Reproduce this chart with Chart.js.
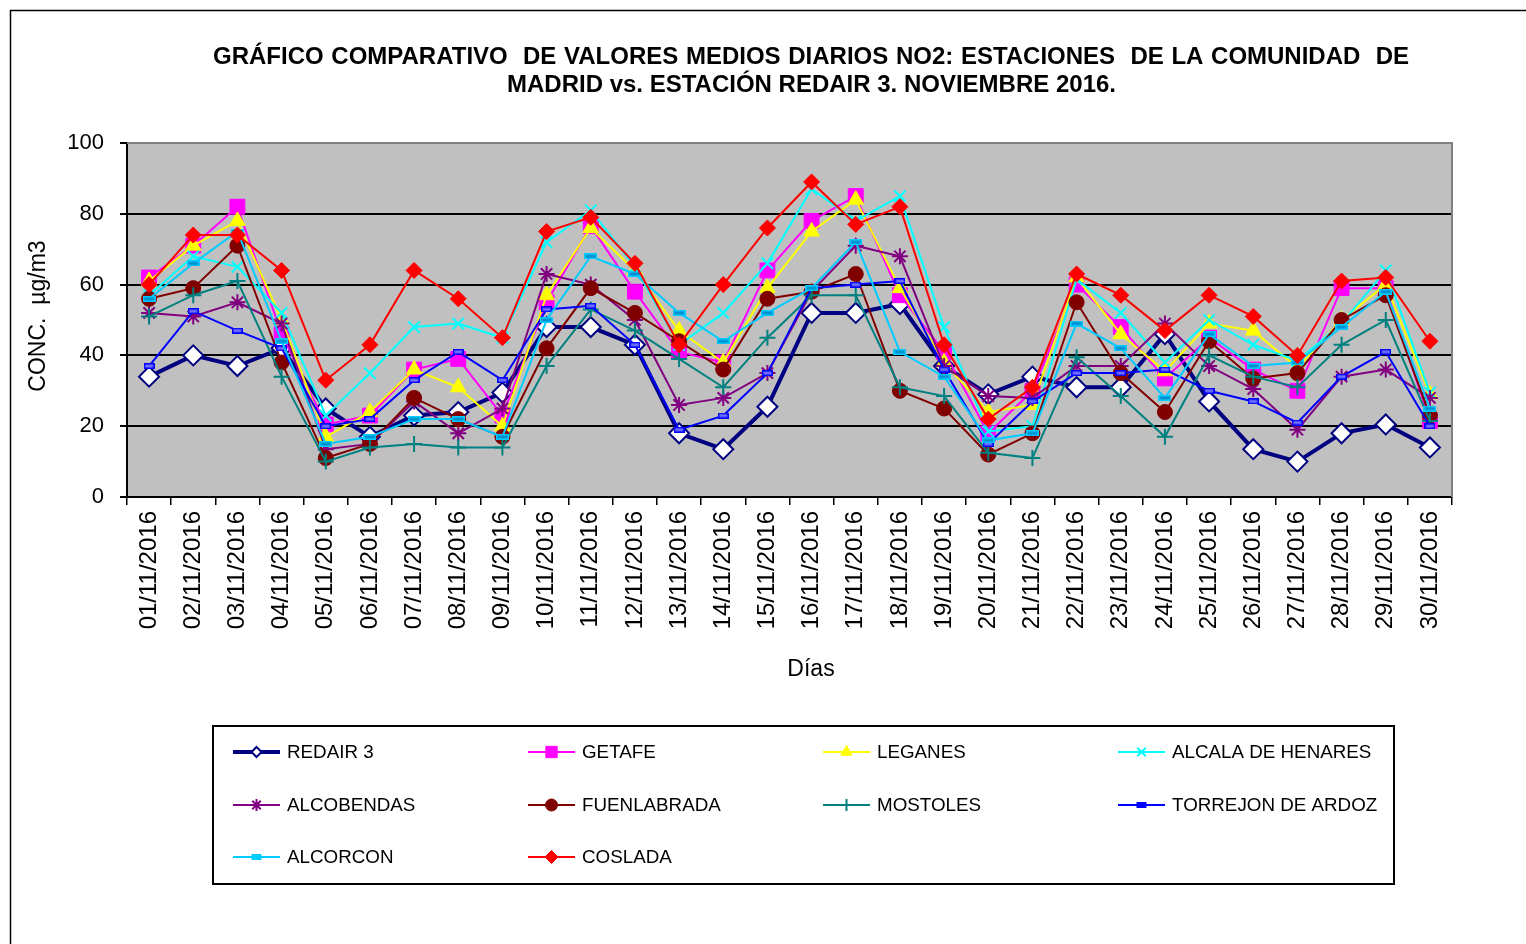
<!DOCTYPE html>
<html>
<head>
<meta charset="utf-8">
<script src="https://cdn.jsdelivr.net/npm/chart.js@4/dist/chart.umd.min.js"></script>
<style>
html,body{margin:0;padding:0;background:#fff;}
canvas{display:block;}
</style>
</head>
<body>
<canvas id="c" width="1526" height="944"></canvas>
<script>
// ---------- DATA ----------
const days = ['01/11/2016','02/11/2016','03/11/2016','04/11/2016','05/11/2016','06/11/2016','07/11/2016','08/11/2016','09/11/2016','10/11/2016',
  '11/11/2016','12/11/2016','13/11/2016','14/11/2016','15/11/2016','16/11/2016','17/11/2016','18/11/2016','19/11/2016','20/11/2016',
  '21/11/2016','22/11/2016','23/11/2016','24/11/2016','25/11/2016','26/11/2016','27/11/2016','28/11/2016','29/11/2016','30/11/2016'];
const yTicks = [0, 20, 40, 60, 80, 100];

const redair3     = [34,40,37,42,25,17,23,24,29.5,48,48,43,18,13.5,25.5,52,52,54.5,37,29,34,31,31,46,27,13.5,10,18,20.5,14];
const getafe      = [62,71,82,46,20.5,23,36,39,23,55,76.5,58,41,38,64,78,85,57,41,18,30,60,48,33.5,45,36,30,59,59,21.5];
const leganes     = [61,71,78,50,17,24,36,31,20,57,76,64,47,38,59,75,84,59,38,24,26,62,46,35.5,49,47,36.5,50,60,29];
const alcala      = [57,68,65,52,23,35,48,49,45,72,81,65,43,52,66,87,78,85,48,18.5,20,61.5,52,38,50,43,38.5,49,64,29.5];
const alcobendas  = [52,51,55,49,13.5,15,27,18,25,63,60,50,26,28,35,58,71,68,37,28.5,28,37,37,49,37,30.5,19,34,36,28];
const fuenlabrada = [56,59,71,38,11,15,28,22,17,42,59,52,44,36,56,58,63,30,25,12,18,55,35,24,44,33.5,35,50,57,23];
const mostoles    = [51,57,61,34,10,14,15,14,14,37,53,47,39,31,45,57,57,31,28.5,12.5,11,39.5,28.5,17,40,34,31,43,50,21.5];
const torrejon    = [37,52.5,47,42,20,22,33,41,33,53,54,43,19,23,35,59,60,61,36,15,27,35,35,36,30,27,21,34,41,20];
const alcorcon    = [56,66,75,44,15,17,22,22,17,50,68,63,52,44,52,59,72,41,34,16,18,49,42,28,46,37,38,48,58,25];
const coslada     = [60,74,74,64,33,43,64,56,45,75,79,66,43,60,76,89,77,82,43,22,31,63,57,47,57,51,40,61,62,44];

const seriesNames = ['REDAIR 3','GETAFE','LEGANES','ALCALA DE HENARES','ALCOBENDAS','FUENLABRADA','MOSTOLES','TORREJON DE ARDOZ','ALCORCON','COSLADA'];
const titleLines = ['GRÁFICO COMPARATIVO  DE VALORES MEDIOS DIARIOS NO2: ESTACIONES  DE LA COMUNIDAD  DE', 'MADRID vs. ESTACIÓN REDAIR 3. NOVIEMBRE 2016.'];
const yTitle = 'CONC.  µg/m3';
const xTitle = 'Días';

// ---------- STYLES ----------
function dash(fill, stroke, w, h) {
  const c = document.createElement('canvas');
  c.width = w; c.height = h;
  const g = c.getContext('2d');
  g.fillStyle = fill; g.fillRect(0, 0, w, h);
  g.strokeStyle = stroke; g.lineWidth = 1.5;
  g.strokeRect(0.75, 0.75, w - 1.5, h - 1.5);
  return c;
}
const torrejonMark = dash('#7070FF', '#0000FF', 11, 6);
const alcorconMark = dash('#0090D0', '#00CCFF', 13, 6);

const styles = [
  {color:'#000080', bw:4, ps:'rectRot', r:10, fill:'#FFFFFF', pbw:2, lr:5},
  {color:'#FF00FF', bw:2, ps:'rect', r:10.5, fill:'#FF00FF', pbw:1, lr:8},
  {color:'#FFFF00', bw:2, ps:'triangle', r:9, fill:'#FFFF00', pbw:1, lr:6.5},
  {color:'#00FFFF', bw:2, ps:'crossRot', r:8, fill:'#00FFFF', pbw:2, lr:6},
  {color:'#800080', bw:2, ps:'star', r:8, fill:'#800080', pbw:2, lr:6},
  {color:'#800000', bw:2, ps:'circle', r:7.5, fill:'#800000', pbw:1, lr:6},
  {color:'#008080', bw:2, ps:'cross', r:8, fill:'#008080', pbw:2, lr:6},
  {color:'#0000FF', bw:2, ps:torrejonMark, r:6, fill:'#0000FF', pbw:1, lr:4, legendDash:true},
  {color:'#00CCFF', bw:2, ps:alcorconMark, r:6, fill:'#00CCFF', pbw:1, lr:5, legendDash:true},
  {color:'#FF0000', bw:2, ps:'rectRot', r:8, fill:'#FF0000', pbw:1, lr:6.5}
];
const allData = [redair3,getafe,leganes,alcala,alcobendas,fuenlabrada,mostoles,torrejon,alcorcon,coslada];

const datasets = allData.map((d, i) => ({
  label: seriesNames[i],
  data: d,
  borderColor: styles[i].color,
  backgroundColor: styles[i].fill,
  borderWidth: styles[i].bw,
  pointStyle: styles[i].ps,
  pointRadius: styles[i].r,
  pointBorderColor: styles[i].color,
  pointBackgroundColor: styles[i].fill,
  pointBorderWidth: styles[i].pbw,
  tension: 0,
  fill: false,
  order: 10 - i
}));

// ---------- HELPERS ----------
function drawMarker(ctx, st, x, y, r) {
  ctx.save();
  ctx.fillStyle = st.fill; ctx.strokeStyle = st.color; ctx.lineWidth = st.pbw;
  if (st.legendDash) {
    ctx.fillStyle = st.color;
    ctx.fillRect(x - 5, y - 3, 10, 6);
    ctx.restore(); return;
  }
  ctx.beginPath();
  const s = st.ps;
  if (s === 'rectRot') {
    ctx.moveTo(x - r, y); ctx.lineTo(x, y - r); ctx.lineTo(x + r, y); ctx.lineTo(x, y + r); ctx.closePath();
    ctx.fill(); ctx.stroke();
  } else if (s === 'rect') {
    const h = r * Math.SQRT1_2; ctx.rect(x - h, y - h, 2 * h, 2 * h); ctx.fill(); ctx.stroke();
  } else if (s === 'triangle') {
    for (let k = 0; k < 3; k++) {
      const a = k * 2 * Math.PI / 3;
      const px = x + Math.sin(a) * r, py = y - Math.cos(a) * r;
      if (k === 0) ctx.moveTo(px, py); else ctx.lineTo(px, py);
    }
    ctx.closePath(); ctx.fill(); ctx.stroke();
  } else if (s === 'circle') {
    ctx.arc(x, y, r, 0, Math.PI * 2); ctx.fill(); ctx.stroke();
  } else {
    const c = r * Math.SQRT1_2;
    if (s === 'cross' || s === 'star') { ctx.moveTo(x, y - r); ctx.lineTo(x, y + r); ctx.moveTo(x - r, y); ctx.lineTo(x + r, y); }
    if (s === 'crossRot' || s === 'star') { ctx.moveTo(x - c, y - c); ctx.lineTo(x + c, y + c); ctx.moveTo(x + c, y - c); ctx.lineTo(x - c, y + c); }
    ctx.stroke();
  }
  ctx.restore();
}

const decor = {
  id: 'decor',
  beforeDraw(chart) {
    const ctx = chart.ctx, a = chart.chartArea;
    ctx.save();
    ctx.fillStyle = '#FFFFFF';
    ctx.fillRect(0, 0, chart.width, chart.height);
    ctx.fillStyle = '#C0C0C0';
    ctx.fillRect(a.left, a.top, a.right - a.left, a.bottom - a.top);
    ctx.restore();
  },
  beforeDatasetsDraw(chart) {
    const ctx = chart.ctx, a = chart.chartArea;
    ctx.save();
    ctx.strokeStyle = '#808080'; ctx.lineWidth = 2;
    ctx.beginPath();
    ctx.moveTo(a.left, a.top); ctx.lineTo(a.right, a.top); ctx.lineTo(a.right, a.bottom);
    ctx.stroke();
    ctx.restore();
  },
  afterDraw(chart) {
    const ctx = chart.ctx, a = chart.chartArea;
    ctx.save();
    // outer border
    ctx.strokeStyle = '#000'; ctx.lineWidth = 1.5;
    ctx.beginPath(); ctx.moveTo(10.5, chart.height); ctx.lineTo(10.5, 10.5); ctx.lineTo(chart.width, 10.5); ctx.stroke();

    // title
    ctx.fillStyle = '#000';
    ctx.font = 'bold 24px "Liberation Sans", Arial, sans-serif';
    ctx.textBaseline = 'middle';
    // line 1 justified between 213 and 1409, keeping the wider gaps
    const parts = titleLines[0].split(' ');
    const L = 213, R = 1409;
    let sum = 0, nGaps = 0;
    parts.forEach(w => { if (w) sum += ctx.measureText(w).width; });
    nGaps = parts.length - 1;
    const gap = (R - L - sum) / nGaps;
    let x = L;
    ctx.textAlign = 'left';
    parts.forEach(w => { if (w) { ctx.fillText(w, x, 57); x += ctx.measureText(w).width; } x += gap; });
    ctx.textAlign = 'center';
    ctx.fillText(titleLines[1], 811.5, 85);

    // axis titles
    ctx.font = '23px "Liberation Sans", Arial, sans-serif';
    ctx.save();
    ctx.translate(39, 316);
    ctx.rotate(-Math.PI / 2);
    ctx.textAlign = 'center'; ctx.textBaseline = 'middle';
    ctx.fillText(yTitle, 0, 0);
    ctx.restore();
    ctx.font = '23px "Liberation Sans", Arial, sans-serif';
    ctx.textAlign = 'center'; ctx.textBaseline = 'middle';
    ctx.fillText(xTitle, 811, 670);

    // legend
    ctx.strokeStyle = '#000'; ctx.lineWidth = 2;
    ctx.strokeRect(213, 726, 1181, 158);
    const cols = [233, 528, 823, 1118], rows = [752, 805, 857];
    ctx.font = '18.8px "Liberation Sans", Arial, sans-serif';
    ctx.textAlign = 'left'; ctx.textBaseline = 'middle';
    chart.data.datasets.forEach((ds, i) => {
      const st = styles[i];
      const cx = cols[i % 4], cy = rows[Math.floor(i / 4)];
      ctx.strokeStyle = st.color; ctx.lineWidth = st.bw === 4 ? 4 : 2;
      ctx.beginPath(); ctx.moveTo(cx, cy); ctx.lineTo(cx + 47, cy); ctx.stroke();
      drawMarker(ctx, st, cx + 23.5, cy, st.lr);
      ctx.fillStyle = '#000';
      ctx.fillText(ds.label, cx + 54, cy + 1);
    });
    ctx.restore();
  }
};

new Chart(document.getElementById('c'), {
  type: 'line',
  data: { labels: days, datasets: datasets },
  options: {
    responsive: false,
    devicePixelRatio: 1,
    animation: false,
    events: [],
    layout: { padding: { top: 143, left: 0, right: 74, bottom: 0 } },
    plugins: { legend: { display: false }, title: { display: false }, tooltip: { enabled: false } },
    scales: {
      x: {
        type: 'category',
        offset: true,
        afterFit(s) { s.height = 447; },
        grid: { drawOnChartArea: false, offset: true, drawTicks: true, tickLength: 8, tickColor: '#000', color: '#000', lineWidth: 1.5 },
        border: { color: '#000', width: 2 },
        ticks: {
          autoSkip: false, minRotation: 90, maxRotation: 90, padding: 6,
          color: '#000', font: { family: '"Liberation Sans", Arial, sans-serif', size: 24 }
        }
      },
      y: {
        min: 0, max: 100,
        afterFit(s) { s.width = 127; },
        afterBuildTicks(s) { s.ticks = yTicks.map(v => ({ value: v })); },
        grid: {
          color: (c) => (c.tick && c.tick.value === 100) ? '#808080' : '#000',
          lineWidth: 2, drawTicks: true, tickLength: 7, tickColor: '#000'
        },
        border: { color: '#000', width: 2 },
        ticks: {
          stepSize: 20, padding: 16, color: '#000',
          font: { family: '"Liberation Sans", Arial, sans-serif', size: 22 }
        }
      }
    }
  },
  plugins: [decor]
});
</script>
</body>
</html>
